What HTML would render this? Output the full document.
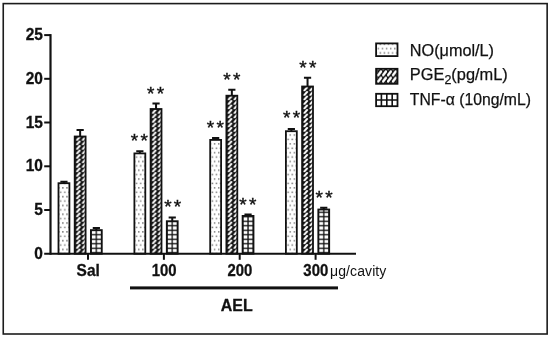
<!DOCTYPE html>
<html><head><meta charset="utf-8"><title>chart</title>
<style>
html,body{margin:0;padding:0;background:#fff;}
body{width:550px;height:337px;overflow:hidden;}
svg{display:block;}
text{font-family:"Liberation Sans",Arial,sans-serif;fill:#111;}
.b{font-weight:bold;font-size:16.3px;stroke:#111;stroke-width:0.3px;}
.l{font-size:16.6px;stroke:#111;stroke-width:0.25px;}
.s{font-size:19px;stroke:#111;stroke-width:0.4px;}
</style></head><body>
<svg width="550" height="337" viewBox="0 0 550 337">
<defs>
<pattern id="dots" width="4.1" height="8.8" patternUnits="userSpaceOnUse" x="0.4" y="-1.2">
<rect x="2.0" y="0.6" width="1.5" height="1.5" fill="#7c7c7c"/>
<rect x="0" y="5.0" width="1.5" height="1.5" fill="#7c7c7c"/>
<rect x="4.1" y="5.0" width="1.5" height="1.5" fill="#7c7c7c"/>
</pattern>
<pattern id="hatch" width="5.9" height="4.5" patternUnits="userSpaceOnUse" x="1.8" y="-0.5">
<rect width="5.9" height="4.5" fill="#111"/>
<path d="M1.35,3.85 L4.15,0.75" stroke="#fff" stroke-width="2.0" stroke-linecap="round"/>
</pattern>
<pattern id="hatch2" width="4.9" height="6.3" patternUnits="userSpaceOnUse" x="377.2" y="70.2">
<rect width="4.9" height="6.3" fill="#111"/>
<path d="M1.0,5.0 L3.9,1.3" stroke="#fff" stroke-width="2.4" stroke-linecap="round"/>
</pattern>
<pattern id="grid" width="5.4" height="4.5" patternUnits="userSpaceOnUse" x="3.6499999999999995" y="-3.2">
<rect width="5.4" height="4.5" fill="#fff"/>
<path d="M0,2.25 H5.4 M2.7,0 V4.5" stroke="#111" stroke-width="1.3"/>
</pattern>
</defs>
<rect x="0" y="0" width="550" height="337" fill="#fff"/>
<rect x="3.25" y="3.6" width="543.9" height="330.4" fill="none" stroke="#1c1c1c" stroke-width="1.6"/>

<g transform="translate(57.60,253.7)">
<path d="M6.35,-70.4 V-71.9 M2.75,-71.9 H9.95" stroke="#111" stroke-width="2" fill="none"/>
<rect x="0.90" y="-70.50" width="10.90" height="70.50" fill="#fff"/>
<rect x="0.90" y="-70.50" width="10.90" height="70.50" fill="url(#dots)" stroke="#111" stroke-width="1.8"/>
</g>
<g transform="translate(73.80,253.7)">
<path d="M6.35,-117.1 V-123.8 M2.75,-123.8 H9.95" stroke="#111" stroke-width="2" fill="none"/>
<rect x="0.90" y="-117.20" width="10.90" height="117.20" fill="#fff"/>
<rect x="0.90" y="-117.20" width="10.90" height="117.20" fill="url(#hatch)" stroke="#111" stroke-width="1.8"/>
</g>
<g transform="translate(90.00,253.7)">
<path d="M6.35,-23.5 V-25.7 M2.75,-25.7 H9.95" stroke="#111" stroke-width="2" fill="none"/>
<rect x="0.90" y="-23.60" width="10.90" height="23.60" fill="#fff"/>
<rect x="0.90" y="-23.60" width="10.90" height="23.60" fill="url(#grid)" stroke="#111" stroke-width="1.8"/>
</g>
<g transform="translate(133.50,253.7)">
<path d="M6.35,-100.2 V-102.4 M2.75,-102.4 H9.95" stroke="#111" stroke-width="2" fill="none"/>
<rect x="0.90" y="-100.30" width="10.90" height="100.30" fill="#fff"/>
<rect x="0.90" y="-100.30" width="10.90" height="100.30" fill="url(#dots)" stroke="#111" stroke-width="1.8"/>
</g>
<g transform="translate(149.70,253.7)">
<path d="M6.35,-144.6 V-150.3 M2.75,-150.3 H9.95" stroke="#111" stroke-width="2" fill="none"/>
<rect x="0.90" y="-144.70" width="10.90" height="144.70" fill="#fff"/>
<rect x="0.90" y="-144.70" width="10.90" height="144.70" fill="url(#hatch)" stroke="#111" stroke-width="1.8"/>
</g>
<g transform="translate(165.90,253.7)">
<path d="M6.35,-32.4 V-36.3 M2.75,-36.3 H9.95" stroke="#111" stroke-width="2" fill="none"/>
<rect x="0.90" y="-32.50" width="10.90" height="32.50" fill="#fff"/>
<rect x="0.90" y="-32.50" width="10.90" height="32.50" fill="url(#grid)" stroke="#111" stroke-width="1.8"/>
</g>
<g transform="translate(209.30,253.7)">
<path d="M6.35,-113.7 V-115.7 M2.75,-115.7 H9.95" stroke="#111" stroke-width="2" fill="none"/>
<rect x="0.90" y="-113.80" width="10.90" height="113.80" fill="#fff"/>
<rect x="0.90" y="-113.80" width="10.90" height="113.80" fill="url(#dots)" stroke="#111" stroke-width="1.8"/>
</g>
<g transform="translate(225.50,253.7)">
<path d="M6.35,-157.9 V-164.0 M2.75,-164.0 H9.95" stroke="#111" stroke-width="2" fill="none"/>
<rect x="0.90" y="-158.00" width="10.90" height="158.00" fill="#fff"/>
<rect x="0.90" y="-158.00" width="10.90" height="158.00" fill="url(#hatch)" stroke="#111" stroke-width="1.8"/>
</g>
<g transform="translate(241.70,253.7)">
<path d="M6.35,-37.7 V-39.3 M2.75,-39.3 H9.95" stroke="#111" stroke-width="2" fill="none"/>
<rect x="0.90" y="-37.80" width="10.90" height="37.80" fill="#fff"/>
<rect x="0.90" y="-37.80" width="10.90" height="37.80" fill="url(#grid)" stroke="#111" stroke-width="1.8"/>
</g>
<g transform="translate(285.00,253.7)">
<path d="M6.35,-122.4 V-124.7 M2.75,-124.7 H9.95" stroke="#111" stroke-width="2" fill="none"/>
<rect x="0.90" y="-122.50" width="10.90" height="122.50" fill="#fff"/>
<rect x="0.90" y="-122.50" width="10.90" height="122.50" fill="url(#dots)" stroke="#111" stroke-width="1.8"/>
</g>
<g transform="translate(301.20,253.7)">
<path d="M6.35,-167.1 V-176.0 M2.75,-176.0 H9.95" stroke="#111" stroke-width="2" fill="none"/>
<rect x="0.90" y="-167.20" width="10.90" height="167.20" fill="#fff"/>
<rect x="0.90" y="-167.20" width="10.90" height="167.20" fill="url(#hatch)" stroke="#111" stroke-width="1.8"/>
</g>
<g transform="translate(317.40,253.7)">
<path d="M6.35,-44.1 V-46.0 M2.75,-46.0 H9.95" stroke="#111" stroke-width="2" fill="none"/>
<rect x="0.90" y="-44.20" width="10.90" height="44.20" fill="#fff"/>
<rect x="0.90" y="-44.20" width="10.90" height="44.20" fill="url(#grid)" stroke="#111" stroke-width="1.8"/>
</g>
<path d="M50.5,34.1 V254.7" stroke="#111" stroke-width="2.2" fill="none"/>
<path d="M44.2,253.7 H356" stroke="#111" stroke-width="2" fill="none"/>
<text class="b" transform="translate(42.9,258.8) scale(0.95,1)" text-anchor="end">0</text>
<path d="M44.2,210.0 H50.5" stroke="#111" stroke-width="2" fill="none"/>
<text class="b" transform="translate(42.9,215.1) scale(0.95,1)" text-anchor="end">5</text>
<path d="M44.2,166.3 H50.5" stroke="#111" stroke-width="2" fill="none"/>
<text class="b" transform="translate(42.9,171.4) scale(0.95,1)" text-anchor="end">10</text>
<path d="M44.2,122.5 H50.5" stroke="#111" stroke-width="2" fill="none"/>
<text class="b" transform="translate(42.9,127.6) scale(0.95,1)" text-anchor="end">15</text>
<path d="M44.2,78.8 H50.5" stroke="#111" stroke-width="2" fill="none"/>
<text class="b" transform="translate(42.9,83.9) scale(0.95,1)" text-anchor="end">20</text>
<path d="M44.2,35.1 H50.5" stroke="#111" stroke-width="2" fill="none"/>
<text class="b" transform="translate(42.9,40.2) scale(0.95,1)" text-anchor="end">25</text>
<path d="M88.0,253.7 V259.8" stroke="#111" stroke-width="2" fill="none"/>
<text class="b" transform="translate(88.2,275.8) scale(0.95,1)" text-anchor="middle">Sal</text>
<path d="M163.9,253.7 V259.8" stroke="#111" stroke-width="2" fill="none"/>
<text class="b" transform="translate(164.1,275.8) scale(0.915,1)" text-anchor="middle">100</text>
<path d="M239.7,253.7 V259.8" stroke="#111" stroke-width="2" fill="none"/>
<text class="b" transform="translate(239.89999999999998,275.8) scale(0.915,1)" text-anchor="middle">200</text>
<path d="M315.6,253.7 V259.8" stroke="#111" stroke-width="2" fill="none"/>
<text class="b" transform="translate(315.8,275.8) scale(0.915,1)" text-anchor="middle">300</text>
<text x="330" y="275.6" style="font-size:14px;letter-spacing:0.1px">μg/cavity</text>
<rect x="130" y="286.4" width="208" height="3" fill="#111"/>
<text class="b" transform="translate(236.8,310.9) scale(0.95,1)" text-anchor="middle" style="font-size:16.8px">AEL</text>
<text class="s" x="134.40 144.10" y="147.1" text-anchor="middle">**</text>
<text class="s" x="150.70 160.40" y="99.9" text-anchor="middle">**</text>
<text class="s" x="167.85 177.55" y="212.5" text-anchor="middle">**</text>
<text class="s" x="210.55 220.25" y="134.0" text-anchor="middle">**</text>
<text class="s" x="227.05 236.75" y="86.0" text-anchor="middle">**</text>
<text class="s" x="243.00 252.70" y="211.2" text-anchor="middle">**</text>
<text class="s" x="286.80 296.50" y="124.4" text-anchor="middle">**</text>
<text class="s" x="303.05 312.75" y="73.8" text-anchor="middle">**</text>
<text class="s" x="319.15 328.85" y="204.0" text-anchor="middle">**</text>
<rect x="376.1" y="43.4" width="21.4" height="12.7" fill="url(#dots)" stroke="#111" stroke-width="1.8"/>
<rect x="376.1" y="68.8" width="21.4" height="15" fill="url(#hatch2)" stroke="#111" stroke-width="1.8"/>
<rect x="376.1" y="93.8" width="21.4" height="12.4" fill="#fff" stroke="#111" stroke-width="1.8"/>
<path d="M381.4,93.8 V106.2 M386.8,93.8 V106.2 M392.2,93.8 V106.2 M376,100 H397.6" stroke="#111" stroke-width="1.6" fill="none"/>
<text class="l" x="409.8" y="55.6" textLength="84.2" lengthAdjust="spacingAndGlyphs">NO(μmol/L)</text>
<text class="l" x="409.8" y="80.0" textLength="98" lengthAdjust="spacingAndGlyphs">PGE<tspan dy="4.3" style="font-size:12.6px">2</tspan><tspan dy="-4.3">(pg/mL)</tspan></text>
<text class="l" x="409.8" y="104.6" textLength="121.2" lengthAdjust="spacingAndGlyphs">TNF-α (10ng/mL)</text>
</svg></body></html>
